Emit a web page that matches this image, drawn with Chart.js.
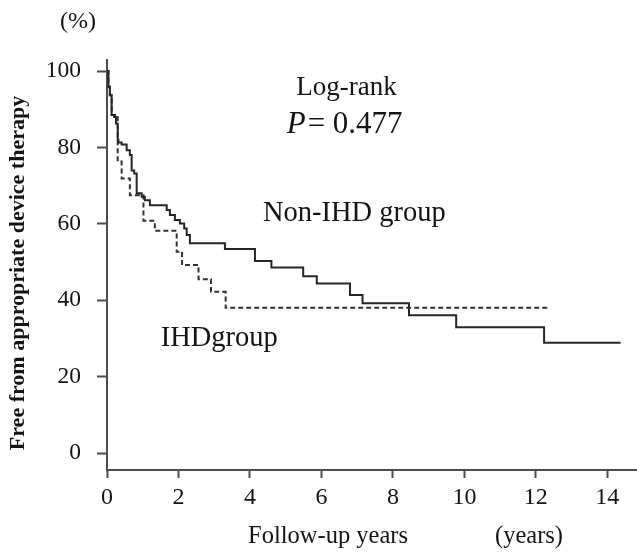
<!DOCTYPE html>
<html>
<head>
<meta charset="utf-8">
<script src="https://cdn.jsdelivr.net/npm/chart.js@4"></script>
<style>
  html, body { margin: 0; padding: 0; background: #fff; }
  #wrap { width: 637px; height: 553px; position: relative; }
</style>
</head>
<body>
<div id="wrap"><canvas id="km"></canvas></div>
<script>
// Kaplan-Meier steps (years, % free from therapy)
const nonIhdYears = [0, 0.04, 0.08, 0.13, 0.2, 0.25, 0.3, 0.32, 0.41, 0.55, 0.64, 0.69, 0.76, 0.83, 0.97, 1.06, 1.2, 1.67, 1.76, 1.9, 2.04, 2.16, 2.23, 2.32, 3.3, 4.14, 4.6, 5.49, 5.87, 6.8, 7.15, 8.45, 9.77, 12.23, 14.37];
const nonIhdFree = [100, 95.9, 93.7, 88.5, 88, 86.3, 82, 81.3, 80.8, 79.3, 78, 74, 73.2, 68, 67.1, 66.2, 64.9, 63.6, 62.3, 61, 60.1, 58.8, 57.1, 54.9, 53.4, 50.3, 48.6, 46.3, 44.4, 41.4, 39.2, 36.1, 32.9, 28.9, 28.9];

const ihdYears = [0, 0.04, 0.08, 0.13, 0.3, 0.41, 0.64, 1.02, 1.34, 1.95, 2.1, 2.56, 2.91, 3.32, 12.4];
const ihdFree = [100, 95.9, 93.7, 88.5, 76.3, 71.9, 67.5, 60.8, 58.2, 52.7, 49.2, 45.5, 42.2, 38.0, 38.0];

const xTicks = [0, 2, 4, 6, 8, 10, 12, 14];
const yTicks = [0, 20, 40, 60, 80, 100];

const FONT = "'Liberation Serif', 'DejaVu Serif', serif";
const INK = '#141414';
const AXIS = '#4d4d4d';

const toPoints = (xs, ys) => xs.map((x, i) => ({ x: x, y: ys[i] }));

// annotation texts drawn on top of the chart
const textPlugin = {
  id: 'kmText',
  afterDraw(chart) {
    const ctx = chart.ctx;
    const xs = chart.scales.x;
    const ys = chart.scales.y;
    ctx.save();
    ctx.fillStyle = INK;
    ctx.textBaseline = 'middle';
    ctx.textAlign = 'center';

    ctx.font = `24px ${FONT}`;
    ctx.fillText('(%)', 78, 22);

    ctx.font = `27px ${FONT}`;
    ctx.fillText('Log-rank', xs.getPixelForValue(6.7), ys.getPixelForValue(95.5));

    // "P = 0.477" with italic P
    const py = ys.getPixelForValue(86);
    ctx.textAlign = 'left';
    ctx.font = `italic 31px ${FONT}`;
    const pW = ctx.measureText('P').width + 2;
    ctx.font = `31px ${FONT}`;
    const restW = ctx.measureText('= 0.477').width;
    let px = xs.getPixelForValue(6.65) - (pW + restW) / 2;
    ctx.font = `italic 31px ${FONT}`;
    ctx.fillText('P', px, py);
    ctx.font = `31px ${FONT}`;
    ctx.fillText('= 0.477', px + pW, py);

    ctx.textAlign = 'center';
    ctx.font = `28.5px ${FONT}`;
    ctx.fillText('Non-IHD group', xs.getPixelForValue(6.92), ys.getPixelForValue(62.7));
    ctx.fillText('IHDgroup', xs.getPixelForValue(3.14), ys.getPixelForValue(30));

    ctx.font = `24.5px ${FONT}`;
    ctx.fillText('Follow-up years', 328, 537);
    ctx.fillText('(years)', 529, 537);

    // rotated y-axis title
    ctx.translate(18, 273);
    ctx.rotate(-Math.PI / 2);
    ctx.font = `bold 22px ${FONT}`;
    ctx.fillText('Free from appropriate device therapy', 0, 0);
    ctx.restore();
  }
};

new Chart(document.getElementById('km'), {
  type: 'line',
  data: {
    datasets: [
      {
        label: 'Non-IHD group',
        data: toPoints(nonIhdYears, nonIhdFree),
        borderColor: '#262626',
        borderWidth: 2,
        stepped: 'before',
        pointRadius: 0,
        fill: false
      },
      {
        label: 'IHD group',
        data: toPoints(ihdYears, ihdFree),
        borderColor: '#333333',
        borderWidth: 2,
        borderDash: [5, 3],
        stepped: 'before',
        pointRadius: 0,
        fill: false
      }
    ]
  },
  options: {
    responsive: true,
    maintainAspectRatio: false,
    animation: false,
    layout: { padding: { top: 60, right: 0, left: 0, bottom: 0 } },
    plugins: {
      legend: { display: false },
      tooltip: { enabled: false }
    },
    scales: {
      x: {
        type: 'linear',
        min: 0,
        max: 14.83,
        afterBuildTicks: (scale) => { scale.ticks = xTicks.map(v => ({ value: v })); },
        afterFit: (scale) => { scale.height = 83; },
        grid: { drawOnChartArea: false, tickLength: 8, tickColor: AXIS, tickWidth: 2 },
        border: { color: AXIS, width: 2 },
        ticks: { color: INK, padding: 5, maxRotation: 0, font: { family: FONT, size: 24 } }
      },
      y: {
        type: 'linear',
        min: -4.45,
        max: 102.9,
        afterBuildTicks: (scale) => { scale.ticks = yTicks.map(v => ({ value: v })); },
        afterFit: (scale) => { scale.width = 107; },
        grid: { drawOnChartArea: false, tickLength: 10, tickColor: AXIS, tickWidth: 2 },
        border: { color: AXIS, width: 2 },
        ticks: { color: INK, padding: 16, font: { family: FONT, size: 23.5 } }
      }
    }
  },
  plugins: [textPlugin]
});
</script>
</body>
</html>
